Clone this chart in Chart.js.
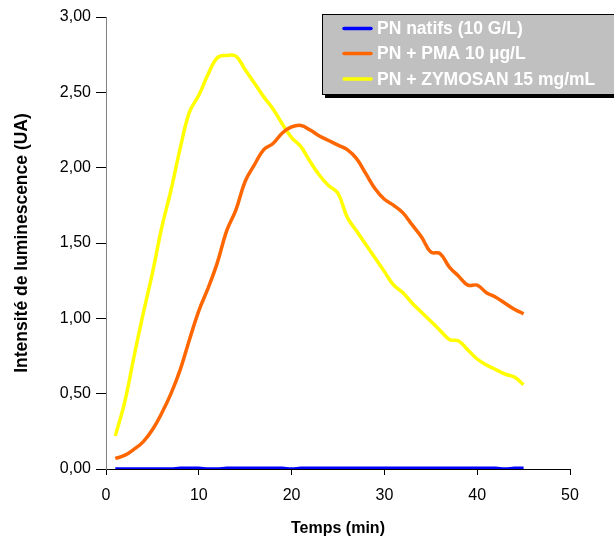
<!DOCTYPE html>
<html>
<head>
<meta charset="utf-8">
<script src="https://cdn.jsdelivr.net/npm/chart.js@4/dist/chart.umd.min.js"></script>
<style>
  body { margin: 0; background: #fff; }
  #wrap { width: 614px; height: 540px; }
</style>
</head>
<body>
<div id="wrap"><canvas id="myChart" width="614" height="540"></canvas></div>
<script>
// temps en minutes
var minutes = [];
for (var m = 1; m <= 45; m++) minutes.push(m);

var natifs = [0, 0, 0, 0, 0, 0, 0, 0.005, 0.005, 0.005,
  0, 0, 0.005, 0.005, 0.005, 0.005, 0.005, 0.005, 0.005, 0,
  0.005, 0.005, 0.005, 0.005, 0.005, 0.005, 0.005, 0.005, 0.005, 0.005,
  0.005, 0.005, 0.005, 0.005, 0.005, 0.005, 0.005, 0.005, 0.005, 0.005,
  0.005, 0.005, 0, 0.005, 0.005];

var pma = [0.07, 0.09, 0.13, 0.18, 0.26, 0.37, 0.50, 0.66, 0.86, 1.05,
  1.20, 1.37, 1.58, 1.72, 1.91, 2.02, 2.12, 2.16, 2.23, 2.27,
  2.28, 2.25, 2.21, 2.18, 2.15, 2.12, 2.06, 1.96, 1.86, 1.79,
  1.75, 1.70, 1.62, 1.54, 1.44, 1.43, 1.34, 1.28, 1.22, 1.22,
  1.17, 1.14, 1.10, 1.06, 1.03];

var zymosan = [0.22, 0.44, 0.74, 1.03, 1.30, 1.60, 1.85, 2.13, 2.37, 2.48,
  2.62, 2.73, 2.745, 2.74, 2.65, 2.56, 2.47, 2.39, 2.29, 2.20,
  2.14, 2.04, 1.95, 1.88, 1.83, 1.67, 1.58, 1.49, 1.40, 1.31,
  1.22, 1.17, 1.10, 1.04, 0.98, 0.92, 0.86, 0.85, 0.79, 0.73,
  0.69, 0.66, 0.63, 0.61, 0.56];

var labels = ['PN natifs (10 G/L)', 'PN + PMA 10 \u00b5g/L', 'PN + ZYMOSAN 15 mg/mL'];
var colors = ['#0000ff', '#ff6600', '#ffff00'];

var FONT = '"Liberation Sans", Arial, sans-serif';

function toPoints(values) {
  var pts = [];
  for (var i = 0; i < values.length; i++) {
    pts.push({x: minutes[i], y: values[i]});
  }
  return pts;
}

function fmt(v) {
  return v.toFixed(2).replace('.', ',');
}

// legende grise dessinee a la main
var legendBox = {
  id: 'legendBox',
  afterDraw: function(chart) {
    var ctx = chart.ctx;
    var left = 322, top = 14, right = 616, bottom = 94;
    ctx.save();
    ctx.fillStyle = '#000';
    ctx.fillRect(left + 3, bottom, right - left, 4);
    ctx.fillStyle = '#c0c0c0';
    ctx.fillRect(left, top, right - left, bottom - top);
    ctx.strokeStyle = '#000';
    ctx.lineWidth = 1;
    ctx.strokeRect(left + 0.5, top + 0.5, right - left, bottom - top);
    ctx.font = 'bold 17.5px ' + FONT;
    ctx.textBaseline = 'middle';
    var rows = [28.5, 53.5, 79];
    chart.data.datasets.forEach(function(ds, i) {
      ctx.strokeStyle = ds.borderColor;
      ctx.lineWidth = 3.5;
      ctx.lineCap = 'round';
      ctx.beginPath();
      ctx.moveTo(344, rows[i]);
      ctx.lineTo(371, rows[i]);
      ctx.stroke();
      ctx.fillStyle = '#ffffff';
      ctx.fillText(ds.label, 377, rows[i] + 1);
    });
    ctx.restore();
  }
};

var ctx = document.getElementById('myChart').getContext('2d');
new Chart(ctx, {
  type: 'line',
  data: {
    datasets: [
      {label: labels[0], data: toPoints(natifs), borderColor: colors[0]},
      {label: labels[1], data: toPoints(pma), borderColor: colors[1]},
      {label: labels[2], data: toPoints(zymosan), borderColor: colors[2]}
    ]
  },
  options: {
    responsive: false,
    animation: false,
    layout: { padding: { top: 17, right: 44, left: 0, bottom: 0 } },
    elements: {
      point: { radius: 0 },
      line: { borderWidth: 3.5, tension: 0.4, fill: false }
    },
    plugins: {
      legend: { display: false },
      tooltip: { enabled: false }
    },
    scales: {
      x: {
        type: 'linear',
        min: 0,
        max: 50,
        ticks: {
          stepSize: 10,
          color: '#000',
          padding: 11,
          font: { family: FONT, size: 16 }
        },
        grid: { display: true, drawOnChartArea: false, color: '#000', tickLength: 6 },
        border: { color: '#000', width: 1 },
        title: {
          display: true,
          text: 'Temps (min)',
          color: '#000',
          padding: { top: 12, bottom: 2 },
          font: { family: FONT, size: 16, weight: 'bold' }
        },
        afterFit: function(scale) { scale.height = 71; }
      },
      y: {
        min: 0,
        max: 3,
        ticks: {
          stepSize: 0.5,
          color: '#000',
          padding: 5,
          font: { family: FONT, size: 16 },
          callback: function(v) { return fmt(v); }
        },
        grid: { display: true, drawOnChartArea: false, color: '#000', tickLength: 10 },
        border: { color: '#808080', width: 1 },
        title: {
          display: true,
          text: 'Intensit\u00e9 de luminescence (UA)',
          color: '#000',
          padding: { bottom: 0, top: 12 },
          font: { family: FONT, size: 17.5, weight: 'bold' }
        },
        afterFit: function(scale) { scale.width = 106; }
      }
    }
  },
  plugins: [legendBox]
});
</script>
</body>
</html>
